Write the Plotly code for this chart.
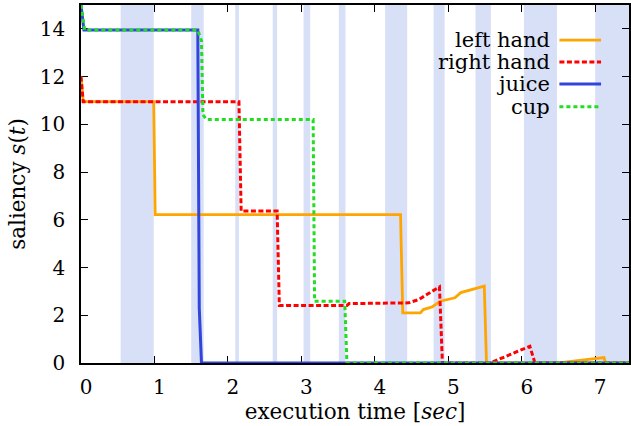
import plotly.graph_objects as go

# ---- data ----
band_start = [0.54, 1.50, 2.10, 2.61, 3.03, 3.51, 4.14, 4.80, 5.37, 6.03, 7.00]
band_end   = [0.99, 1.67, 2.15, 2.67, 3.12, 3.60, 4.44, 4.95, 5.58, 6.48, 7.46]

left_hand_t = [0, 0.03, 0.99, 1.01, 4.35, 4.38, 4.62, 4.66, 4.78, 4.89, 5.09, 5.17, 5.49, 5.52, 6.50, 7.12, 7.14, 7.46]
left_hand_s = [12.0, 10.95, 10.95, 6.22, 6.22, 2.10, 2.10, 2.24, 2.35, 2.59, 2.73, 2.95, 3.22, 0, 0, 0.23, 0, 0]

right_hand_t = [0, 0.03, 2.15, 2.18, 2.67, 2.70, 3.62, 3.65, 4.46, 4.60, 4.73, 4.88, 4.92, 5.57, 5.70, 5.86, 6.04, 6.11, 6.18, 7.46]
right_hand_s = [12.0, 10.95, 10.95, 6.37, 6.37, 2.41, 2.41, 2.49, 2.52, 2.66, 2.91, 3.19, 0, 0, 0.17, 0.37, 0.60, 0.70, 0, 0]

juice_t = [0, 0.04, 1.59, 1.61, 1.64, 7.46]
juice_s = [15.0, 13.95, 13.95, 2.3, 0, 0]

cup_t = [0, 0.05, 1.59, 1.64, 1.66, 1.71, 3.16, 3.18, 3.59, 3.62, 7.46]
cup_s = [15.0, 13.95, 13.95, 13.5, 10.4, 10.2, 10.2, 2.59, 2.59, 0, 0]

x_ticks = [0, 1, 2, 3, 4, 5, 6, 7]
y_ticks = [0, 2, 4, 6, 8, 10, 12, 14]

series = [
    ("left hand", left_hand_t, left_hand_s, "#ffa500", "solid", 2.8),
    ("right hand", right_hand_t, right_hand_s, "#ff0000", "5px,2.5px", 3),
    ("juice", juice_t, juice_s, "#3344dd", "solid", 3),
    ("cup", cup_t, cup_s, "#22dd22", "4px,3px", 3),
]

FONT = "DejaVu Serif"
fig = go.Figure()

for name, t, s, col, dash, w in series:
    fig.add_trace(go.Scatter(x=t, y=s, mode="lines", name=name,
                             line=dict(color=col, dash=dash, width=w),
                             cliponaxis=False, showlegend=False))

shapes = []
for a, b in zip(band_start, band_end):
    shapes.append(dict(type="rect", xref="x", yref="paper", x0=a, x1=b, y0=0, y1=1,
                       fillcolor="#d8e0f8", line=dict(width=0), layer="below"))

# gnuplot-style legend: right-aligned text, sample line on the right
annotations = []
leg_y = [0.902, 0.841, 0.779, 0.716]
for (name, t, s, col, dash, w), yy in zip(series, leg_y):
    annotations.append(dict(xref="paper", yref="paper", x=0.86, y=yy, text=name,
                            showarrow=False, xanchor="right", yanchor="middle",
                            font=dict(family=FONT, size=21, color="black")))
    shapes.append(dict(type="line", xref="paper", yref="paper", x0=0.873, x1=0.949,
                       y0=yy, y1=yy, line=dict(color=col, dash=dash, width=w)))

fig.update_layout(
    width=631, height=426,
    margin=dict(l=81, r=0, t=5, b=63),
    plot_bgcolor="white", paper_bgcolor="white",
    font=dict(family=FONT, size=21, color="black"),
    shapes=shapes, annotations=annotations,
    xaxis=dict(range=[0, 7.46], tickvals=x_ticks, ticks="inside", ticklen=7,
               tickcolor="black", tickwidth=1, showline=True, linecolor="black",
               linewidth=1.5, mirror="ticks", showgrid=False, zeroline=False,
               ticklabelshift=5, ticklabelstandoff=5, layer="below traces",
               tickfont=dict(family=FONT, size=20),
               title=dict(text="execution time [<i>sec</i>]", standoff=0,
                          font=dict(family=FONT, size=21.5))),
    yaxis=dict(range=[0, 15], tickvals=y_ticks, ticks="inside", ticklen=7,
               tickcolor="black", tickwidth=1, showline=True, linecolor="black",
               linewidth=1.5, mirror="ticks", showgrid=False, zeroline=False,
               ticklabelstandoff=10, layer="below traces",
               tickfont=dict(family=FONT, size=20),
               title=dict(text="saliency <i>s</i>(<i>t</i>)", standoff=8,
                          font=dict(family=FONT, size=21.5))),
)

fig.write_html("out.html")
